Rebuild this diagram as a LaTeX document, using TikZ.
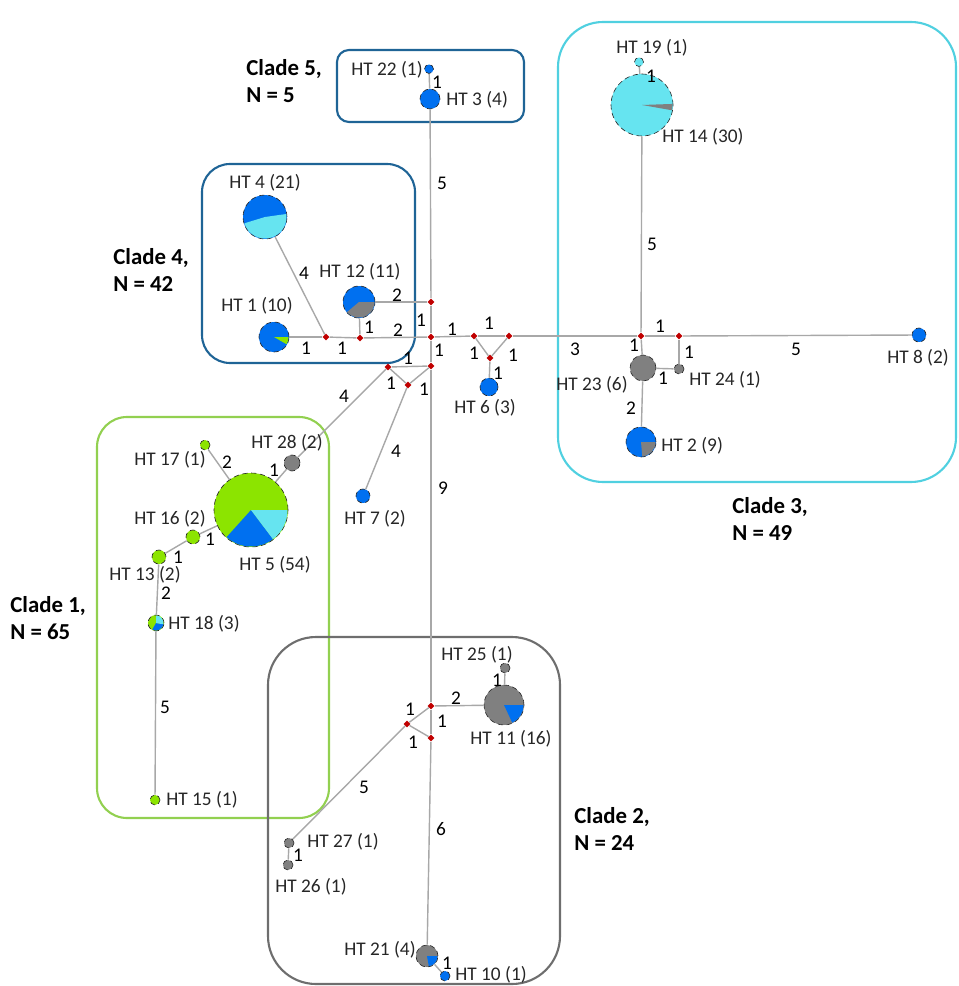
\documentclass[tikz,border=0pt]{standalone}
\usepackage{fontspec}
\setmainfont{Carlito}
\usepackage{xcolor}
\usepackage{tikz}
\usetikzlibrary{shapes.geometric}
\definecolor{htblue}{RGB}{0,112,240}
\definecolor{htcyan}{RGB}{102,228,240}
\definecolor{htgreen}{RGB}{140,228,0}
\definecolor{htgray}{RGB}{128,128,128}
\definecolor{jred}{RGB}{192,0,0}
\definecolor{edgegray}{RGB}{168,168,168}
\definecolor{boxblue}{RGB}{31,100,150}
\definecolor{boxcyan}{RGB}{80,208,224}
\definecolor{boxgreen}{RGB}{146,208,80}
\definecolor{boxgray}{RGB}{110,110,110}
% pie slice: node, start, end, radius, colour
\newcommand{\piepart}[5]{%
	\fill[#5] (#1.center) -- ++(#2:#4) arc[start angle=#2, end angle=#3, radius=#4] -- cycle;}

\tikzset{
	hap/.style={circle, draw=black!85, densely dashed, line width=0.35pt, inner sep=0pt, minimum size=#1},
	hap/.default=0.2cm,
	mvec/.style={diamond, fill=jred, inner sep=0pt, minimum size=0.14cm},
	edge/.style={draw=edgegray, line width=0.8pt},
	elab/.style={font=\fontsize{11}{13}\selectfont, inner sep=0pt},
	htlab/.style={font=\fontsize{11}{13}\selectfont, inner sep=0pt, text=black!85},
	clade/.style={font=\bfseries\fontsize{13}{15.4}\selectfont, align=left, anchor=west, inner sep=0pt},
	cladebox/.style={line width=1.2pt, rounded corners=#1}
}

\begin{document}
\begin{tikzpicture}[x=0.02cm, y=-0.02cm]
		\useasboundingbox (0,0) rectangle (958,986);
		
		% Clade boxes
		\draw[cladebox=0.24cm, boxblue] (337,50) rectangle (524,122);
		\draw[cladebox=0.56cm, boxblue] (202,164) rectangle (415,363);
		\draw[cladebox=0.9cm, boxcyan] (558,22) rectangle (956,482);
		\draw[cladebox=0.6cm, boxgreen] (97,417) rectangle (329,818);
		\draw[cladebox=0.96cm, boxgray] (268,637) rectangle (560,984);
		
		% Clade labels
		\node[clade] (c5) at (246,81) {Clade 5,\\N = 5};
		\node[clade] (c4) at (113,270) {Clade 4,\\N = 42};
		\node[clade] (c3) at (732,519) {Clade 3,\\N = 49};
		\node[clade] (c1) at (10,618) {Clade 1,\\N = 65};
		\node[clade] (c2) at (574,829) {Clade 2,\\N = 24};
		
		% Median vectors
		\foreach \nm/\x/\y in {j1/431/302, j2/431/337, j3/431/366, j4/388/367, j5/408/385,
			jl1/326/337, jl2/360/338, jr1/474/336, jr2/509/336, jr3/490/358,
			jc1/641/336, jc2/679/336, jb1/431/706, jb2/407/724, jb3/431/738} {
			\node[mvec] (\nm) at (\x,\y) {};
		}
		
		% Haplotypes
		\node[hap=0.40cm, fill=htblue] (ht3) at (430,99) {};
		\node[hap=0.18cm, fill=htblue] (ht22) at (429,69) {};
		\node[hap=1.24cm, fill=htcyan] (ht14) at (642,105) {};
		\node[hap=0.18cm, fill=htcyan] (ht19) at (639,62) {};
		\node[hap=0.88cm, fill=htblue] (ht4) at (265,217) {};
		\node[hap=0.64cm, fill=htblue] (ht12) at (359,302) {};
		\node[hap=0.60cm, fill=htblue] (ht1) at (274,337) {};
		\node[hap=0.36cm, fill=htblue] (ht6) at (489,387) {};
		\node[hap=0.28cm, fill=htblue] (ht8) at (919,335) {};
		\node[hap=0.52cm, fill=htgray] (ht23) at (643,368) {};
		\node[hap, fill=htgray] (ht24) at (679,369) {};
		\node[hap=0.60cm, fill=htblue] (ht2) at (641,442) {};
		\node[hap=0.32cm, fill=htgray] (ht28) at (292,463) {};
		\node[hap=1.48cm, fill=htgreen] (ht5) at (251,510) {};
		\node[hap, fill=htgreen] (ht17) at (205,445) {};
		\node[hap=0.28cm, fill=htgreen] (ht16) at (193,537) {};
		\node[hap=0.28cm, fill=htgreen] (ht13) at (159,557) {};
		\node[hap=0.32cm, fill=htgreen] (ht18) at (156,623) {};
		\node[hap, fill=htgreen] (ht15) at (155,800) {};
		\node[hap=0.28cm, fill=htblue] (ht7) at (363,496) {};
		\node[hap=0.80cm, fill=htgray] (ht11) at (504,705) {};
		\node[hap, fill=htgray] (ht25) at (505,668) {};
		\node[hap, fill=htgray] (ht27) at (289,843) {};
		\node[hap, fill=htgray] (ht26) at (288,865) {};
		\node[hap=0.44cm, fill=htgray] (ht21) at (427,956) {};
		\node[hap, fill=htblue] (ht10) at (445,976) {};
		
		% Pie slices
		\piepart{ht4}{197}{368}{0.43cm}{htcyan}
		\piepart{ht12}{220}{360}{0.31cm}{htgray}
		\piepart{ht1}{-30}{0}{0.29cm}{htgreen}
		\piepart{ht5}{228}{307}{0.73cm}{htblue}
		\piepart{ht5}{307}{360}{0.73cm}{htcyan}
		\piepart{ht14}{350}{362}{0.61cm}{htgray}
		\piepart{ht2}{275}{360}{0.29cm}{htgray}
		\piepart{ht11}{295}{360}{0.39cm}{htblue}
		\piepart{ht21}{280}{360}{0.21cm}{htblue}
		\piepart{ht18}{240}{350}{0.15cm}{htblue}
		\piepart{ht18}{350}{450}{0.15cm}{htcyan}
		
		% Connectors
		\foreach \a/\b in {ht22/ht3, ht3/j1, ht12/j1, j1/j2, jl2/j2, ht12/jl2, jl1/jl2, ht1/jl1, ht4/jl1,
			j2/jr1, jr1/jr2, jr1/jr3, jr2/jr3, jr3/ht6, jr2/jc1, jc1/jc2, jc2/ht8,
			ht14/jc1, ht19/ht14, jc1/ht23, ht23/ht24, jc2/ht24, ht23/ht2,
			j2/j3, j4/j3, j4/j5, j5/j3, j4/ht28, j5/ht7,
			ht28/ht5, ht17/ht5, ht16/ht5, ht13/ht16, ht13/ht18, ht18/ht15,
			j3/jb1, jb1/ht11, ht25/ht11, jb2/jb1, jb1/jb3, jb2/jb3, jb2/ht27, ht27/ht26,
			jb3/ht21, ht21/ht10} {
			\draw[edge] (\a) -- (\b);
		}
		
		% Mutation counts
		\foreach \nm/\x/\y/\t in {m1/437/82/1, m2/442/183/5, m3/397/295/2, m4/421/320/1, m5/398/330/2,
			m6/369/327/1, m7/342/348/1, m8/306/348/1, m9/304/273/4, m10/452/329/1, m11/489/323/1,
			m12/474/353/1, m13/513/355/1, m14/498/373/1, m15/575/349/3, m16/660/326/1, m17/796/349/5,
			m18/652/244/5, m19/651/76/1, m20/634/345/1, m21/663/378/1, m22/689/352/1, m23/631/408/2,
			m24/439/350/1, m25/408/358/1, m26/391/383/1, m27/424/389/1, m28/344/396/4, m29/396/451/4,
			m30/274/470/1, m31/227/462/2, m32/210/539/1, m33/178/557/1, m34/166/593/2, m35/165/707/5,
			m36/443/488/9, m37/456/698/2, m38/497/680/1, m39/410/709/1, m40/442/721/1, m41/413/742/1,
			m42/364/787/5, m43/298/855/1, m44/441/829/6, m45/447/963/1} {
			\node[elab] (\nm) at (\x,\y) {\t};
		}
		
		% Haplotype labels
		\foreach \nm/\x/\y/\a/\t in {l22/423/70/east/HT 22 (1), l3/446/100/west/HT 3 (4),
			l19/652/48/center/HT 19 (1), l14/662/137/west/HT 14 (30), l4/265/183/center/HT 4 (21),
			l12/360/272/center/HT 12 (11), l1/257/306/center/HT 1 (10), l6/485/408/center/HT 6 (3),
			l8/918/358/center/HT 8 (2), l23/628/385/east/HT 23 (6), l24/689/380/west/HT 24 (1),
			l2/661/446/west/HT 2 (9), l17/170/460/center/HT 17 (1), l28/287/443/center/HT 28 (2),
			l16/170/519/center/HT 16 (2), l5/275/565/center/HT 5 (54), l13/145/575/center/HT 13 (2),
			l18/204/624/center/HT 18 (3), l15/166/800/west/HT 15 (1), l7/375/519/center/HT 7 (2),
			l25/477/655/center/HT 25 (1), l11/511/739/center/HT 11 (16), l27/343/842/center/HT 27 (1),
			l26/311/887/center/HT 26 (1), l21/380/950/center/HT 21 (4), l10/455/975/west/HT 10 (1)} {
			\node[htlab, anchor=\a] (\nm) at (\x,\y) {\t};
		}
	\end{tikzpicture}
\end{document}
